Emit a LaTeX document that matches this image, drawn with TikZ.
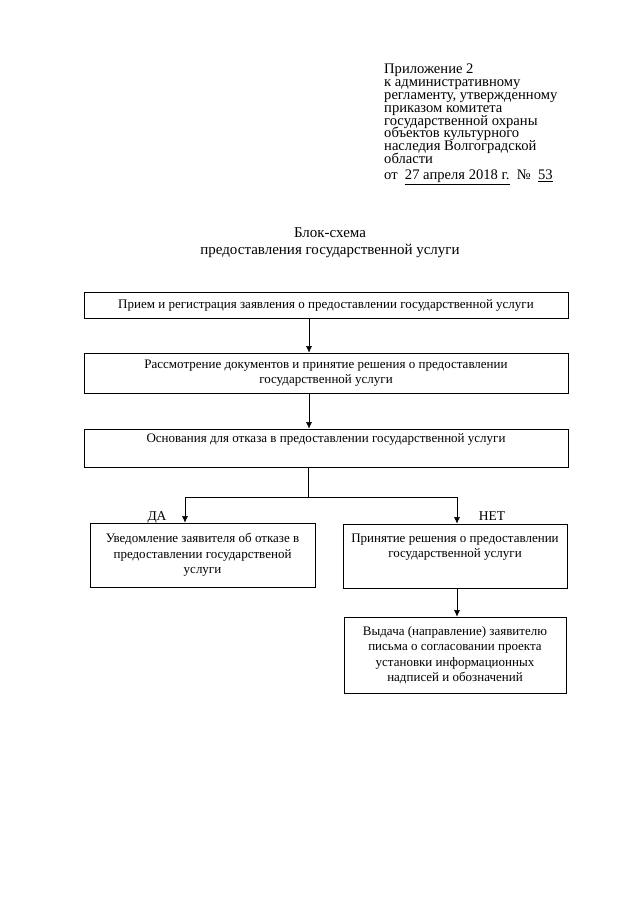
\documentclass[tikz,border=0pt]{standalone}
\usepackage{fontspec}
\setmainfont{Liberation Serif}
\usetikzlibrary{positioning,arrows.meta}
\lineskiplimit=-20pt

\tikzset{
  blok/.style={draw, line width=0.8pt, align=center, inner sep=2pt},
  metka/.style={inner sep=0pt, anchor=base, font=\fontsize{13.5}{15.5}\selectfont},
  strelka/.style={line width=0.6pt, -{Latex[length=6.5pt,width=6pt]}},
}

\begin{document}
\begin{tikzpicture}[x=1pt, y=-1pt, font=\fontsize{13}{15.5}\selectfont]
   \useasboundingbox (0,0) rectangle (640,905);
   % header
   \node[align=left, anchor=north west, inner sep=0pt,
         font=\fontsize{14.6}{12.8}\selectfont] (pril) at (384,64)
      {Приложение 2\\к административному\\регламенту, утвержденному\\приказом комитета\\государственной охраны\\объектов культурного\\наследия Волгоградской\\области\\[3.6pt]от\ \ \underline{27 апреля 2018 г.}\ \ №\ \ \underline{53}};
   \node[align=center, anchor=north, inner sep=0pt,
         font=\fontsize{15}{17}\selectfont] (zagl) at (330,227.5)
      {Блок-схема\\предоставления государственной услуги};
   % boxes
   \node[blok, minimum width=484, minimum height=26] (priem) at (326,305)
      {Прием и регистрация заявления о предоставлении государственной услуги};
   \node[blok, minimum width=484, minimum height=40] (rassm) at (326,373)
      {Рассмотрение документов и принятие решения о предоставлении\\государственной услуги};
   \node[blok, minimum width=484, minimum height=38] (osnov) at (326,448)
      {Основания для отказа в предоставлении государственной услуги\\ \strut};
   \node[blok, minimum width=225, minimum height=64] (uved) at (202.5,555)
      {Уведомление заявителя об отказе в\\предоставлении государственой\\услуги};
   \node[blok, minimum width=224, minimum height=64] (prin) at (455,556)
      {Принятие решения о предоставлении\\государственной услуги\\ \strut};
   \node[blok, minimum width=222, minimum height=76] (vyd) at (455,655)
      {Выдача (направление) заявителю\\письма о согласовании проекта\\установки информационных\\надписей и обозначений};
   \node[metka] (da) at (157,520) {ДА};
   \node[metka] (net) at (492,520) {НЕТ};
   % arrows
   \coordinate (razv) at (308,497);
   \draw[strelka] ([xshift=-17]priem.south) -- ([xshift=-17]rassm.north);
   \draw[strelka] ([xshift=-17]rassm.south) -- ([xshift=-17]osnov.north);
   \draw[line width=0.6pt] ([xshift=-18]osnov.south) -- (razv);
   \draw[strelka] (razv) -| ([xshift=-17.5]uved.north);
   \draw[strelka] (razv) -| ([xshift=2]prin.north);
   \draw[strelka] ([xshift=2]prin.south) -- ([xshift=2]vyd.north);
\end{tikzpicture}
\end{document}
